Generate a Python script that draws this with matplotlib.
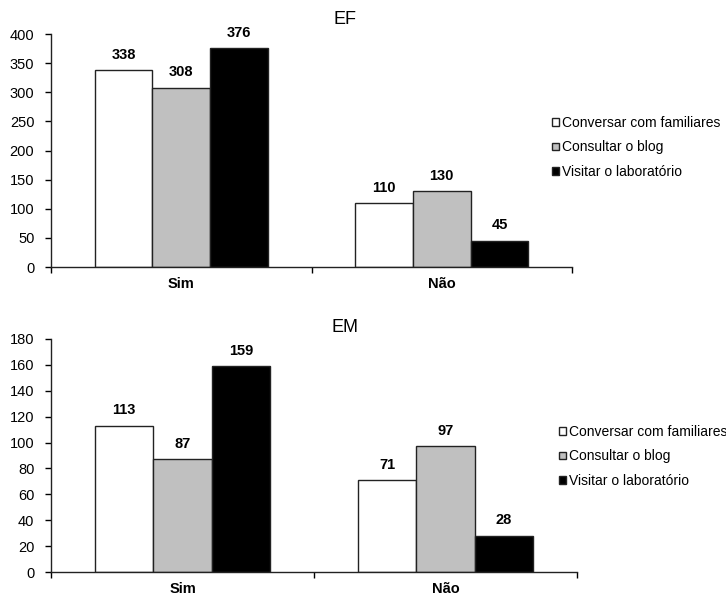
import matplotlib
matplotlib.use("Agg")
import matplotlib.pyplot as plt
import numpy as np

plt.rcParams['font.family'] = ['Liberation Sans', 'DejaVu Sans']

categories = ["Sim", "Não"]
series = ["Conversar com familiares", "Consultar o blog", "Visitar o laboratório"]
ef_values = [[338, 110], [308, 130], [376, 45]]
em_values = [[113, 71], [87, 97], [159, 28]]
colors = ["#ffffff", "#c0c0c0", "#000000"]

fig = plt.figure(figsize=(7.26, 5.97), dpi=100)

def draw(ax, values, title, ymax, ystep, leg_x, leg_y, title_y):
    x = np.arange(len(categories))
    w = 0.222
    for i, (vals, c) in enumerate(zip(values, colors)):
        xs = x + (i - 1) * w
        bars = ax.bar(xs, vals, width=w, color=c, edgecolor="#222222", linewidth=1.0,
                      label=series[i], zorder=2)
        for b, v in zip(bars, vals):
            ax.annotate(str(v), (b.get_x() + b.get_width() / 2, v),
                        xytext=(0, 6), textcoords="offset points",
                        ha="center", va="bottom", fontsize=10.5, fontweight="bold")
    ax.set_xlim(-0.5, 1.5)
    ax.set_ylim(0, ymax)
    ax.set_yticks(np.arange(0, ymax + 1, ystep))
    ax.set_xticks(x)
    ax.set_xticklabels(categories, fontweight="bold", fontsize=10.5)
    ax.set_xticks([-0.5, 0.5, 1.5], minor=True)
    ax.tick_params(axis="x", which="major", length=0, pad=7)
    ax.tick_params(axis="x", which="minor", length=4, direction="out", width=1)
    ax.tick_params(axis="y", length=4, direction="out", labelsize=10.5, width=1, pad=8)
    for s in ["top", "right"]:
        ax.spines[s].set_visible(False)
    for s in ["left", "bottom"]:
        ax.spines[s].set_linewidth(1.0)
        ax.spines[s].set_color("#222222")
    fig.text(345 / 726, 1 - title_y / 597, title, ha="center", va="center", fontsize=13)
    ax.legend(loc="upper left", bbox_to_anchor=(leg_x / 726, 1 - leg_y / 597),
              bbox_transform=fig.transFigure, frameon=False, fontsize=10,
              handlelength=0.5, handleheight=0.5, handletextpad=0.2,
              labelspacing=0.75, borderpad=0, borderaxespad=0)

ax1 = fig.add_axes([51 / 726, 1 - 267 / 597, (572 - 51) / 726, (267 - 34) / 597])
draw(ax1, ef_values, "EF", 400, 50, 552, 116, 20)
ax2 = fig.add_axes([51 / 726, 1 - 572 / 597, (577 - 51) / 726, (572 - 339) / 597])
draw(ax2, em_values, "EM", 180, 20, 559, 425, 328)

fig.savefig("out.png", dpi=100)
